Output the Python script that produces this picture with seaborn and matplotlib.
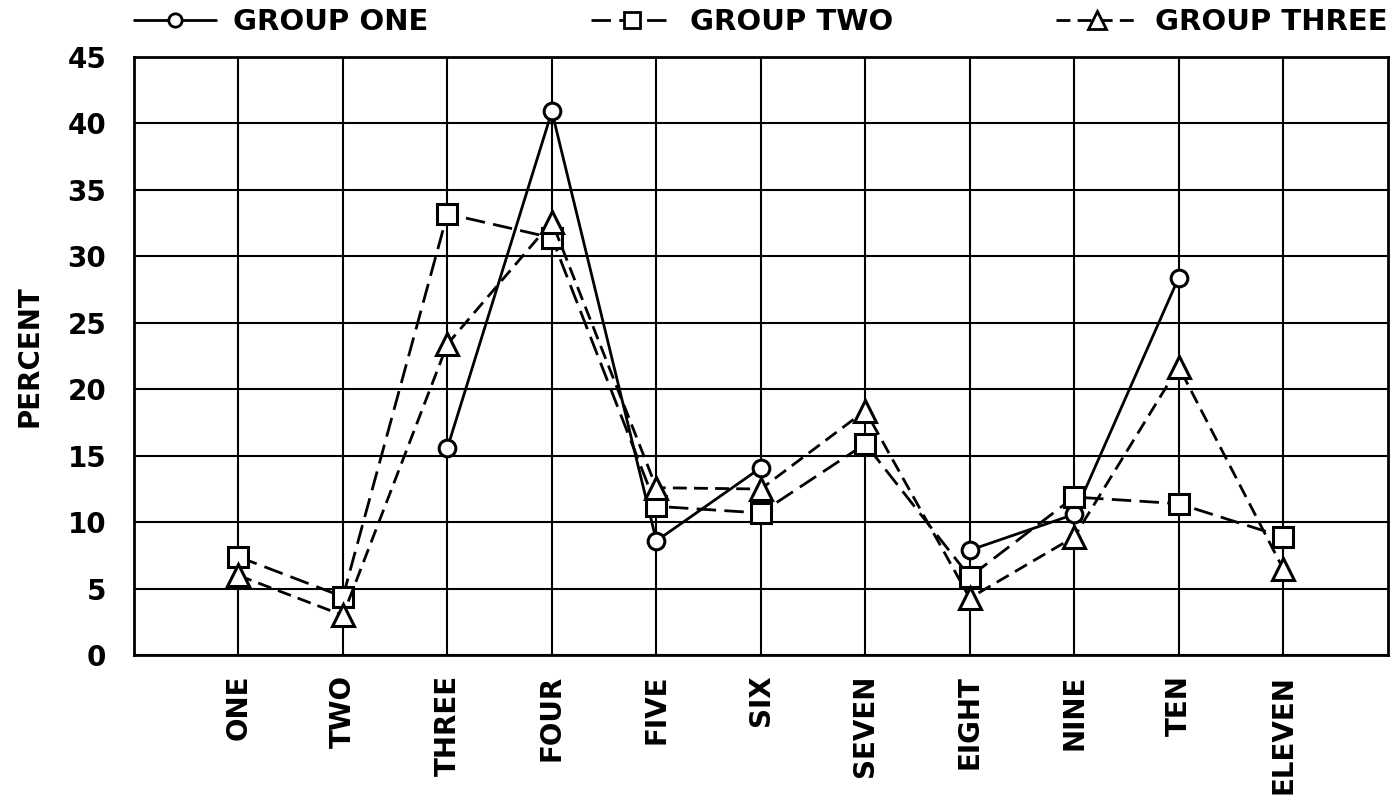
import numpy as np
import pandas as pd
import matplotlib
matplotlib.use("Agg")
import matplotlib.pyplot as plt
from matplotlib.lines import Line2D
import seaborn as sns

# ---- data ----
categories = ["ONE", "TWO", "THREE", "FOUR", "FIVE", "SIX",
              "SEVEN", "EIGHT", "NINE", "TEN", "ELEVEN"]
group_one = [np.nan, np.nan, 15.6, 40.9, 8.6, 14.1, np.nan, 7.9, 10.6, 28.4, np.nan]
group_two = [7.4, 4.4, 33.2, 31.4, 11.2, 10.7, 15.9, 5.9, 11.9, 11.4, 8.9]
group_three = [6.0, 3.0, 23.4, 32.6, 12.6, 12.5, 18.4, 4.3, 8.9, 21.7, 6.5]
y_ticks = [0, 5, 10, 15, 20, 25, 30, 35, 40, 45]
series_names = ["GROUP ONE", "GROUP TWO", "GROUP THREE"]

sns.set_theme(style="white")
plt.rcParams["font.family"] = ["DejaVu Sans"]
plt.rcParams["text.color"] = "black"
plt.rcParams["xtick.color"] = "black"
plt.rcParams["ytick.color"] = "black"
plt.rcParams["axes.labelcolor"] = "black"

fig = plt.figure(figsize=(13.96, 8.02), dpi=100)
ax = fig.add_axes([0.096, 0.183, 0.898, 0.746])

styles = {
    "GROUP ONE": dict(marker="o", markersize=12, linestyle="-"),
    "GROUP TWO": dict(marker="s", markersize=14, linestyle=(0, (7, 3))),
    "GROUP THREE": dict(marker="^", markersize=16, linestyle=(0, (5, 2.6))),
}

pos = np.arange(len(categories))
for name, vals in zip(series_names, [group_one, group_two, group_three]):
    df = pd.DataFrame({"x": pos, "y": vals})
    # split into contiguous runs so gaps (missing values) stay open
    valid = df["y"].notna()
    run_id = (valid != valid.shift()).cumsum()
    for _, seg in df[valid].groupby(run_id[valid]):
        sns.lineplot(data=seg, x="x", y="y", ax=ax, estimator=None, sort=False,
                     color="black", linewidth=2.0,
                     markerfacecolor="white", markeredgecolor="black",
                     markeredgewidth=2.2, zorder=3, **styles[name])

ax.set_xlim(-1, 11)
ax.set_ylim(0, 45)
ax.set_xticks(pos)
ax.set_xticklabels(categories, rotation=90, fontsize=20, fontweight="bold",
                   va="top")
ax.set_yticks(y_ticks)
ax.set_yticklabels([str(v) for v in y_ticks], fontsize=20, fontweight="bold")
ax.tick_params(axis="both", length=0)
ax.tick_params(axis="x", pad=14)
ax.tick_params(axis="y", pad=20)
ax.grid(True, color="black", linewidth=1.5)
ax.set_axisbelow(True)
for sp in ax.spines.values():
    sp.set_color("black")
    sp.set_linewidth(2)
    sp.set_visible(True)

ax.set_xlabel("")
ax.set_ylabel("PERCENT", fontsize=20, fontweight="bold")
ax.yaxis.set_label_coords(-0.072, 0.5)

handles = [Line2D([], [], color="black", linewidth=2.0,
                  markerfacecolor="white", markeredgecolor="black",
                  markeredgewidth=2.0, **{**styles[n], "markersize": styles[n]["markersize"] * 0.8})
           for n in series_names]
ax.legend(handles, series_names, loc="lower left", bbox_to_anchor=(0, 1.035, 1, 0.05),
          ncol=3, mode="expand", frameon=False, borderaxespad=0, borderpad=0,
          handlelength=2.8, handletextpad=0.6,
          prop={"size": 21, "weight": "bold"})

fig.savefig("out.png", dpi=100, facecolor="white")
